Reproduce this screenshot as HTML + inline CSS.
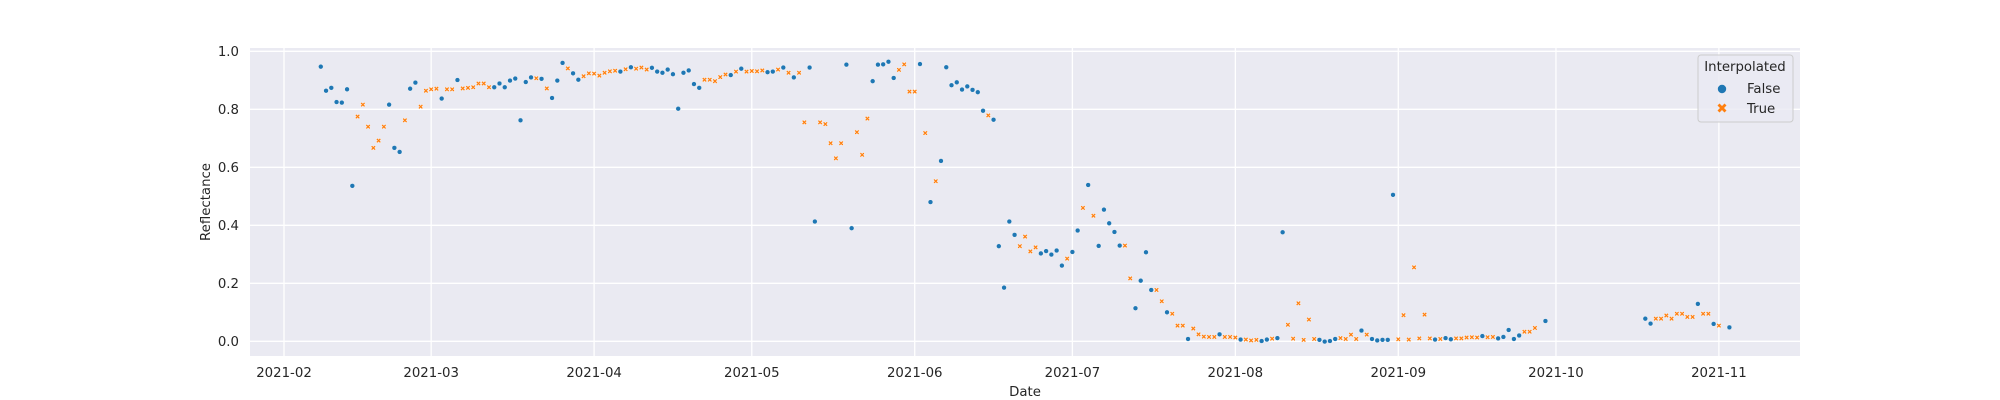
<!DOCTYPE html>
<html><head><meta charset="utf-8">
<style>
html,body{margin:0;padding:0;background:#fff;}
svg{display:block;font-family:"DejaVu Sans","Liberation Sans",sans-serif;}
</style></head>
<body>
<svg id="chart" width="2000" height="400" viewBox="0 0 2000 400" xmlns="http://www.w3.org/2000/svg">
<rect x="0" y="0" width="2000" height="400" fill="#ffffff"/>
<rect x="250" y="48" width="1550" height="308" fill="#eaeaf2"/>
<g id="grid"></g>
<g id="ticks"></g>
<g id="marks"></g>
<text x="1025" y="396" text-anchor="middle" font-size="13.3" fill="#262626">Date</text>
<text x="0" y="0" transform="translate(210,202) rotate(-90)" text-anchor="middle" font-size="13.3" fill="#262626">Reflectance</text>
<g>
<rect x="1698" y="55" width="95" height="67" rx="3" fill="#eaeaf2" fill-opacity="0.8" stroke="#cccccc" stroke-width="1"/>
<text x="1745" y="71" text-anchor="middle" font-size="13.3" fill="#262626">Interpolated</text>
<circle cx="1722" cy="89" r="4.2" fill="#1f77b4"/>
<text x="1747" y="93" font-size="13.3" fill="#262626">False</text>
<path d="M1717.5,105.5 l2,-2 l2.5,2.5 l2.5,-2.5 l2,2 l-2.5,2.5 l2.5,2.5 l-2,2 l-2.5,-2.5 l-2.5,2.5 l-2,-2 l2.5,-2.5 z" fill="#ff7f0e"/>
<text x="1747" y="113" font-size="13.3" fill="#262626">True</text>
</g>
</svg>
<script>
// days since 2021-02-01
const days = [7,8,9,10,11,12,13,14,15,16,17,18,19,20,21,22,23,24,25,26,27,28,29,30,31,32,33,34,35,36,37,38,39,40,41,42,43,44,45,46,
47,48,49,50,51,52,53,54,55,56,57,58,59,60,61,62,63,64,65,66,67,68,69,70,71,72,73,74,75,76,77,78,79,80,81,82,83,84,85,86,87,88,89,90,91,92,93,94,95,96,97,98,99,100,101,102,
103,104,105,106,107,108,109,110,111,112,113,114,115,116,117,118,119,120,121,122,123,124,125,126,127,128,129,130,131,132,133,134,135,136,137,138,139,140,141,142,143,144,145,146,147,148,149,
150,151,152,153,154,155,156,157,158,159,160,161,162,163,164,165,166,167,168,169,170,171,172,173,174,175,176,177,178,179,180,181,182,183,184,185,186,187,188,189,190,191,192,193,194,195,196,197,
198,199,200,201,202,203,204,205,206,207,208,209,210,211,212,213,214,215,216,217,218,219,220,221,222,223,224,225,226,227,228,229,230,231,232,233,234,235,236,237,238,240,
259,260,261,262,263,264,265,266,267,268,269,270,271,272,273,275];
const values = [0.947,0.864,0.874,0.825,0.823,0.869,0.536,0.775,0.816,0.740,0.667,0.692,0.740,0.816,0.667,0.653,0.762,0.871,0.892,0.809,0.864,0.869,0.871,0.837,0.869,0.869,0.901,0.872,0.874,0.876,0.889,0.889,0.876,0.876,0.889,0.876,0.899,0.906,0.762,0.894,
0.910,0.907,0.905,0.872,0.839,0.899,0.960,0.941,0.924,0.902,0.914,0.924,0.923,0.916,0.926,0.931,0.933,0.930,0.938,0.945,0.940,0.944,0.937,0.943,0.930,0.926,0.937,0.921,0.802,0.926,0.934,0.887,0.874,0.902,0.902,0.897,0.911,0.920,0.918,0.930,0.940,0.930,0.932,0.931,0.934,0.928,0.930,0.937,0.944,0.926,0.910,0.926,0.755,0.944,0.413,0.755,
0.749,0.683,0.631,0.683,0.954,0.390,0.721,0.643,0.768,0.897,0.954,0.955,0.964,0.908,0.936,0.955,0.861,0.861,0.956,0.718,0.480,0.552,0.622,0.945,0.883,0.893,0.868,0.879,0.867,0.859,0.795,0.779,0.764,0.328,0.185,0.413,0.367,0.328,0.361,0.310,0.324,0.303,0.311,0.299,0.313,0.261,0.285,
0.308,0.382,0.460,0.539,0.433,0.329,0.454,0.407,0.377,0.330,0.330,0.217,0.114,0.209,0.307,0.177,0.177,0.138,0.100,0.095,0.054,0.054,0.008,0.044,0.024,0.016,0.015,0.015,0.024,0.015,0.015,0.013,0.006,0.006,0.003,0.005,0.001,0.006,0.009,0.011,0.376,0.057,0.009,0.131,0.005,0.075,0.008,0.005,
-0.001,0.001,0.008,0.011,0.008,0.023,0.008,0.037,0.023,0.008,0.003,0.005,0.005,0.505,0.007,0.090,0.006,0.255,0.010,0.092,0.010,0.006,0.008,0.011,0.007,0.010,0.010,0.013,0.014,0.013,0.018,0.014,0.015,0.010,0.015,0.039,0.008,0.020,0.033,0.033,0.046,0.070,
0.078,0.061,0.078,0.078,0.089,0.078,0.095,0.095,0.084,0.084,0.129,0.095,0.095,0.060,0.054,0.048];
const interp = [0,0,0,0,0,0,0,1,1,1,1,1,1,0,0,0,1,0,0,1,1,1,1,0,1,1,0,1,1,1,1,1,1,0,0,0,0,0,0,0,
0,1,0,1,0,0,0,1,0,0,1,1,1,1,1,1,1,0,1,0,1,1,1,0,0,0,0,0,0,0,0,0,0,1,1,1,1,1,0,1,0,1,1,1,1,0,0,1,0,1,0,1,1,0,0,1,
1,1,1,1,0,0,1,1,1,0,0,0,0,0,1,1,1,1,0,1,0,1,0,0,0,0,0,0,0,0,0,1,0,0,0,0,0,1,1,1,1,0,0,0,0,0,1,
0,0,1,0,1,0,0,0,0,0,1,1,0,0,0,0,1,1,0,1,1,1,0,1,1,1,1,1,0,1,1,1,0,1,1,1,0,0,1,0,0,1,1,1,1,1,1,0,
0,0,0,1,1,1,1,0,1,0,0,0,0,0,1,1,1,1,1,1,1,0,1,0,0,1,1,1,1,1,0,1,1,0,0,0,0,0,1,1,1,0,
0,0,1,1,1,1,1,1,1,1,0,1,1,0,1,0];
const xTickDays = [0,28,59,89,120,150,181,212,242,273];
const xTickLabels = ["2021-02","2021-03","2021-04","2021-05","2021-06","2021-07","2021-08","2021-09","2021-10","2021-11"];
const yTicks = [0.0,0.2,0.4,0.6,0.8,1.0];
const yTickLabels = ["0.0","0.2","0.4","0.6","0.8","1.0"];

const NS = "http://www.w3.org/2000/svg";
const PX_PER_DAY = 5.256, X0 = 284;
function xScale(d){ return X0 + d * PX_PER_DAY; }
function yScale(v){ return 341.3 - v * 290; }

const grid = document.getElementById('grid');
const ticks = document.getElementById('ticks');
const marks = document.getElementById('marks');

xTickDays.forEach((d,i)=>{
  const x = xScale(d);
  const l = document.createElementNS(NS,'line');
  l.setAttribute('x1',x); l.setAttribute('x2',x); l.setAttribute('y1',48); l.setAttribute('y2',356);
  l.setAttribute('stroke','#ffffff'); l.setAttribute('stroke-width','1.3');
  
  
  grid.appendChild(l);
  const t = document.createElementNS(NS,'text');
  t.setAttribute('x',x); t.setAttribute('y',377); t.setAttribute('text-anchor','middle');
  t.setAttribute('font-size','13.3'); t.setAttribute('fill','#262626');
  t.textContent = xTickLabels[i];
  
  
  ticks.appendChild(t);
});
yTicks.forEach((v,i)=>{
  const y = yScale(v);
  const l = document.createElementNS(NS,'line');
  l.setAttribute('x1',250); l.setAttribute('x2',1800); l.setAttribute('y1',y); l.setAttribute('y2',y);
  l.setAttribute('stroke','#ffffff'); l.setAttribute('stroke-width','1.3');
  
  
  grid.appendChild(l);
  const t = document.createElementNS(NS,'text');
  t.setAttribute('x',239); t.setAttribute('y',y+4.8); t.setAttribute('text-anchor','end');
  t.setAttribute('font-size','13.3'); t.setAttribute('fill','#262626');
  t.textContent = yTickLabels[i];
  
  
  ticks.appendChild(t);
});

days.forEach((d,i)=>{
  const x = xScale(d), y = yScale(values[i]);
  let el;
  if (interp[i]) {
    el = document.createElementNS(NS,'path');
    const a=1.1, b=2.4;
    el.setAttribute('d', `M${x-b},${y-b+a} l${a},${-a} l${b-a},${b-a} l${b-a},${a-b} l${a},${a} l${a-b},${b-a} l${b-a},${b-a} l${-a},${a} l${a-b},${a-b} l${a-b},${b-a} l${-a},${-a} l${b-a},${a-b} z`);
    el.setAttribute('fill','#ff7f0e'); el.setAttribute('stroke','#ffffff'); el.setAttribute('stroke-width','0.4');
    
  } else {
    el = document.createElementNS(NS,'circle');
    el.setAttribute('cx',x); el.setAttribute('cy',y); el.setAttribute('r',2.4);
    el.setAttribute('fill','#1f77b4'); el.setAttribute('stroke','#ffffff'); el.setAttribute('stroke-width','0.4');
    
  }
  
  marks.appendChild(el);
});
</script>
</body></html>
